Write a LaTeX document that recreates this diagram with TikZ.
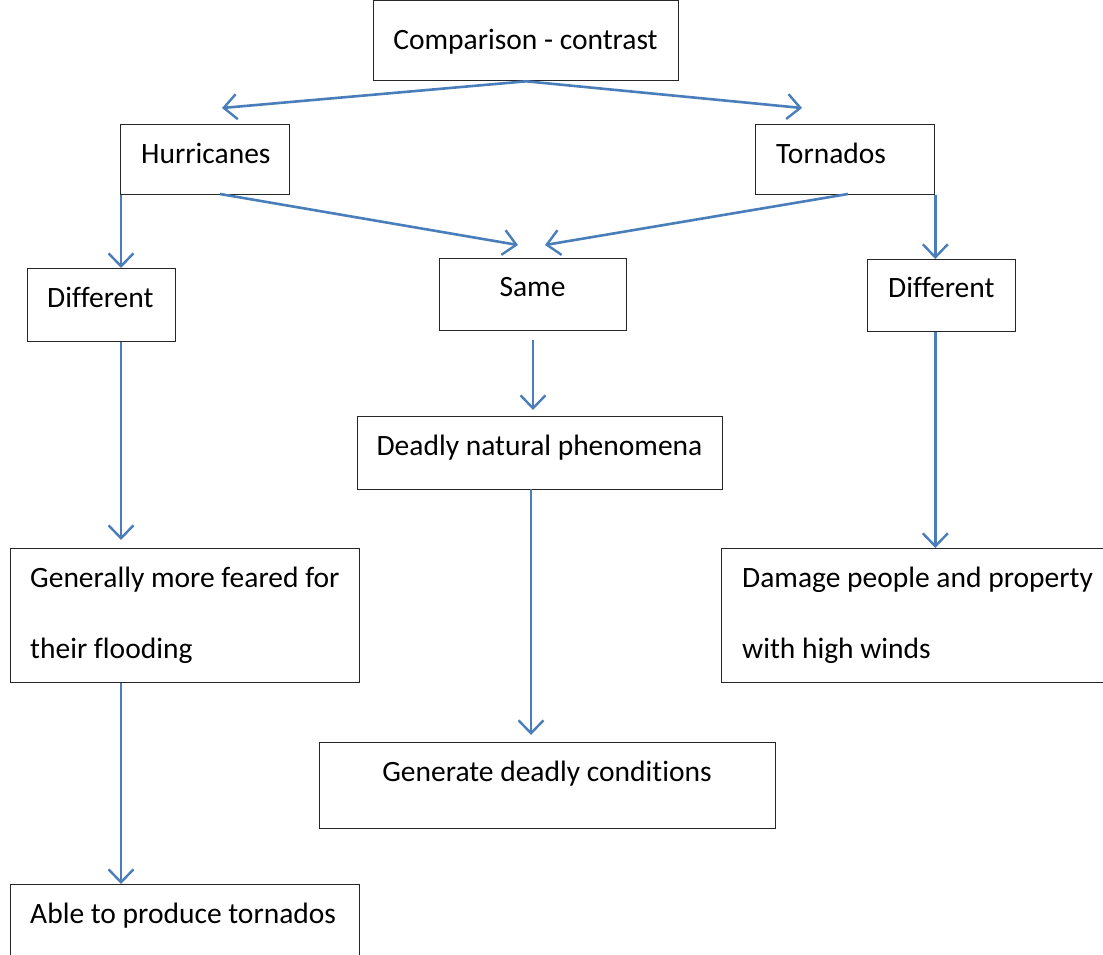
\documentclass[tikz,border=0pt]{standalone}
\usepackage{fontspec}
\setmainfont{Carlito}[Ligatures=NoCommon]
\usetikzlibrary{arrows.meta,calc}
\definecolor{arrblue}{HTML}{4A7EBB}
\tikzset{
  box/.style={draw=black!85, line width=1.3pt, inner sep=0pt, anchor=north west},
  txt/.style={anchor=base west, inner sep=0pt, font=\fontsize{29.5}{34}\selectfont},
  ctxt/.style={anchor=base, inner sep=0pt, font=\fontsize{29.5}{34}\selectfont},
  arr/.style={draw=arrblue, line width=2.6pt, -{Straight Barb[length=13pt,width=25pt,line width=2.4pt]}}
}
\begin{document}
\begin{tikzpicture}[x=1pt,y=-1pt]
\useasboundingbox (0,0) rectangle (1103,954);
% boxes
\node[box, minimum width=305pt, minimum height=80pt] (top) at (373,0) {};
\node[box, minimum width=169pt, minimum height=70pt] (hur) at (120,124) {};
\node[box, minimum width=179pt, minimum height=70pt] (tor) at (755,124) {};
\node[box, minimum width=148pt, minimum height=73pt] (difL) at (27,268) {};
\node[box, minimum width=187pt, minimum height=72pt] (same) at (439,258) {};
\node[box, minimum width=148pt, minimum height=72pt] (difR) at (867,259) {};
\node[box, minimum width=365pt, minimum height=73pt] (dead) at (357,416) {};
\node[box, minimum width=349pt, minimum height=134pt] (feared) at (10,548) {};
\node[box, minimum width=400pt, minimum height=134pt] (damage) at (721,548) {};
\node[box, minimum width=456pt, minimum height=86pt] (gen) at (319,742) {};
\node[box, minimum width=349pt, minimum height=100pt] (able) at (10,884) {};
% texts
\node[ctxt] (ttop) at (525.5,49) {Comparison - contrast};
\node[txt] (thur) at (141,163) {Hurricanes};
\node[txt] (ttor) at (776,163) {Tornados};
\node[txt] (tdifL) at (47,307) {Different};
\node[ctxt] (tsame) at (532.5,296) {Same};
\node[txt] (tdifR) at (888,297) {Different};
\node[ctxt] (tdead) at (539.5,455) {Deadly natural phenomena};
\node[txt] (tfear1) at (30,587) {Generally more feared for};
\node[txt] (tfear2) at (30,658) {their flooding};
\node[txt] (tdam1) at (742,587) {Damage people and property};
\node[txt] (tdam2) at (742,658) {with high winds};
\node[ctxt] (tgen) at (547,781) {Generate deadly conditions};
\node[txt] (table) at (30,923) {Able to produce tornados};
% arrow end coordinates
\coordinate (eh) at (222,108);
\coordinate (et) at (802,108);
\coordinate (sh) at (220,194);
\coordinate (st) at (848,194);
\coordinate (es1) at (518,245);
\coordinate (es2) at (545,245);
\coordinate (ss) at (533,340);
\coordinate (sd) at (531,489);
% arrows
\draw[arr] (top.south) -- (eh);
\draw[arr] (top.south) -- (et);
\draw[arr] (sh) -- (es1);
\draw[arr] (st) -- (es2);
\draw[arr] ([xshift=1pt]hur.south west) -- ([xshift=1pt]hur.south west |- difL.north);
\draw[arr] (tor.south east) -- (tor.south east |- difR.north);
\draw[arr] ([xshift=1pt]hur.south west |- difL.south) -- ([xshift=1pt,yshift=8pt]hur.south west |- feared.north);
\draw[arr] (ss) -- ([yshift=6pt]ss |- dead.north);
\draw[arr] (sd) -- ([yshift=7pt]sd |- gen.north);
\draw[arr] (tor.south east |- difR.south) -- (tor.south east |- damage.north);
\draw[arr] ([xshift=1pt]hur.south west |- feared.south) -- ([xshift=1pt]hur.south west |- able.north);
\end{tikzpicture}
\end{document}
